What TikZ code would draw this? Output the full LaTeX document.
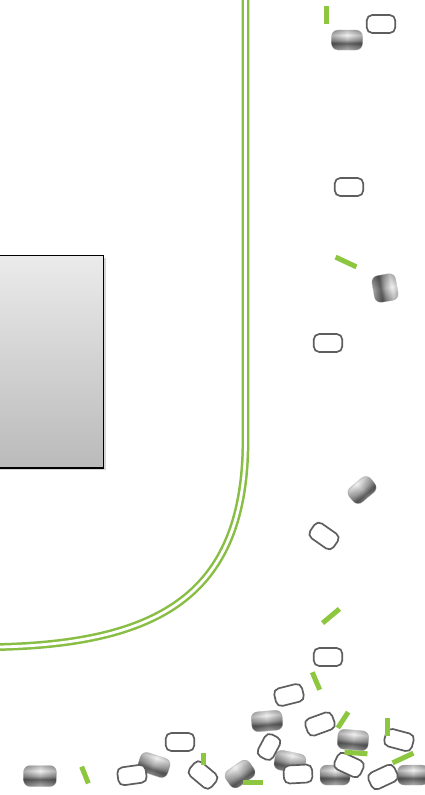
\documentclass[tikz,border=0pt]{standalone}
\usetikzlibrary{shadows,fadings}
\definecolor{lgreen}{RGB}{136,190,68}
\definecolor{sgreen}{RGB}{141,198,63}
\pgfdeclareverticalshading{silver}{100bp}{color(0bp)=(black!33); color(25bp)=(black!33); color(31bp)=(black!40); color(42bp)=(black!62); color(50bp)=(black!32); color(62bp)=(black!5); color(75bp)=(black!28); color(100bp)=(black!28)}
\tikzfading[name=pillsides, left color=transparent!72, right color=transparent!72, middle color=transparent!100]
\tikzset{
  fpill/.style={rectangle, rounded corners=6.5pt, minimum width=31pt, minimum height=20pt, inner sep=0pt,
    shading=silver, shading angle=#1, rotate=#1, draw=black!22, line width=0.3pt,
    postaction={fill=black, path fading=pillsides, fading angle=#1}},
  opill/.style={rectangle, rounded corners=5.5pt, minimum width=28.5pt, minimum height=18pt, inner sep=0pt,
    draw=black!63, line width=1.7pt, fill=white, rotate=#1},
  stick/.style={rectangle, fill=sgreen, inner sep=0pt, minimum width=20pt, minimum height=5pt, rotate=#1},
  boxshade/.style={top color=black!8, bottom color=black!27, draw=black, line width=1.6pt,
    drop shadow={shadow xshift=2pt, shadow yshift=-2pt, fill=black!35, opacity=0.45}},
  guide/.style={draw=lgreen, line width=2.5pt, double=white, double distance=2.8pt}
}
\begin{document}
\begin{tikzpicture}[x=1pt,y=1pt]
\useasboundingbox (0,0) rectangle (425,-795);
\clip (0,0) rectangle (425,-795);
\fill[white] (0,0) rectangle (425,-795);
% grey box
\path[boxshade] (-6,-255.5) rectangle (103.5,-468);
% double green boundary
\coordinate (gTop) at (245.5,5);
\coordinate (gBend) at (245.5,-440);
\coordinate (gLeft) at (0,-647);
\coordinate (gEnd) at (-30,-648);
\draw[guide] (gTop) -- (gBend) .. controls (245.5,-590) and (165,-643) .. (gLeft) -- (gEnd);
% filled pills
\node[fpill=0] (fA) at (347,-40) {};
\node[fpill=-80, minimum width=27pt, minimum height=24pt] (fB) at (385,-288) {};
\node[fpill=40, minimum width=28pt, minimum height=19pt] (fC) at (362,-490) {};
\node[fpill=5] (fD) at (267,-721) {};
\node[fpill=-5] (fE) at (353,-740) {};
\node[fpill=-12] (fF) at (290,-762) {};
\node[fpill=0, minimum width=30pt] (fG) at (335,-775) {};
\node[fpill=0] (fH) at (413,-775) {};
\node[fpill=0, minimum width=33pt, minimum height=21pt] (fI) at (40,-776) {};
\node[fpill=-18] (fJ) at (154,-765) {};
\node[fpill=35, minimum width=29pt] (fK) at (240,-774) {};
% outline pills
\node[opill=0] (oa) at (381,-24) {};
\node[opill=0] (ob) at (349,-187) {};
\node[opill=0] (oc) at (328,-343) {};
\node[opill=-35] (od) at (324,-536) {};
\node[opill=0] (oe) at (328,-657) {};
\node[opill=14] (of) at (289,-695) {};
\node[opill=20] (og) at (320,-724) {};
\node[opill=-15] (oh) at (399,-740) {};
\node[opill=62, minimum width=25pt, minimum height=17pt] (oi) at (269,-747) {};
\node[opill=3] (oj) at (298,-774) {};
\node[opill=-25] (ok) at (349,-765) {};
\node[opill=25] (ol) at (383,-777) {};
\node[opill=8] (om) at (132,-775) {};
\node[opill=0] (on) at (180,-742) {};
\node[opill=-40] (oo) at (203,-775) {};
% green sticks
\node[stick=90, minimum width=18pt] (s1) at (326,-15) {};
\node[stick=-25, minimum width=23pt] (s2) at (346,-262) {};
\node[stick=40, minimum width=22pt] (s3) at (331,-616) {};
\node[stick=113, minimum width=19pt] (s4) at (316,-681) {};
\node[stick=57, minimum width=19pt] (s5) at (343,-720) {};
\node[stick=90, minimum width=18pt] (s6) at (387,-727) {};
\node[stick=-4, minimum width=23pt] (s7) at (356,-753) {};
\node[stick=25, minimum width=23pt] (s8) at (403,-758) {};
\node[stick=0, minimum width=20pt] (s9) at (253,-782) {};
\node[stick=112, minimum width=18pt] (s10) at (85,-775) {};
\node[stick=90, minimum width=12pt] (s11) at (203,-759) {};
\end{tikzpicture}
\end{document}
